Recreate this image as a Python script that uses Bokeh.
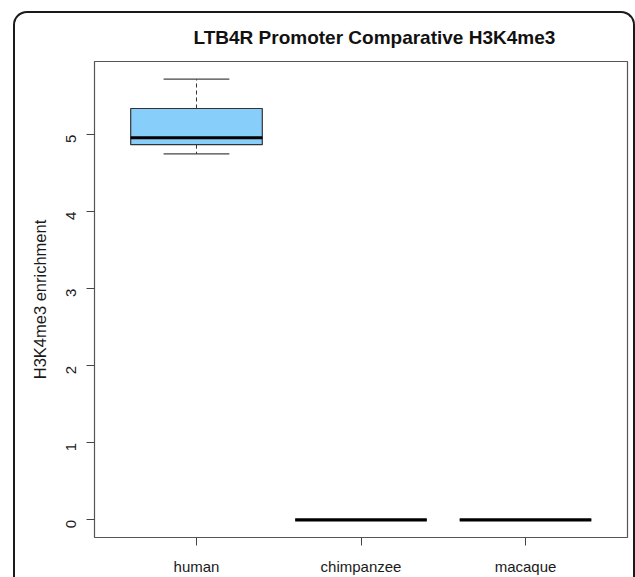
import math
from bokeh.plotting import figure
from bokeh.models import Range1d, FactorRange, FixedTicker, ColumnDataSource, InlineStyleSheet
from bokeh.transform import dodge
from bokeh.embed import file_html
from bokeh.resources import INLINE

# ---- data ----
categories = ["human", "chimpanzee", "macaque"]
whisker_low = [4.75, 0.0, 0.0]
q1 = [4.87, 0.0, 0.0]
median = [4.96, 0.0, 0.0]
q3 = [5.34, 0.0, 0.0]
whisker_high = [5.72, 0.0, 0.0]
y_ticks = [0, 1, 2, 3, 4, 5]

FONT = "Liberation Sans"

src = ColumnDataSource(dict(cat=categories, lo=whisker_low, q1=q1, med=median,
                            q3=q3, hi=whisker_high))

x_range = FactorRange(factors=categories, range_padding=0.12,
                      range_padding_units="absolute")

p = figure(
    width=635, height=577,
    x_range=x_range,
    y_range=Range1d(-0.229, 5.95),
    output_backend="svg", toolbar_location=None,
    min_border_left=94, min_border_right=8, min_border_top=61, min_border_bottom=39,
    background_fill_color="white", border_fill_color="white",
)

p.title.text = "LTB4R Promoter Comparative H3K4me3"
p.title.text_font = FONT
p.title.text_font_size = "19px"
p.title.text_font_style = "bold"
p.title.text_color = "#111111"
p.title.align = "left"
p.title.offset = 99
p.title.standoff = 28

p.outline_line_color = "#555555"
p.outline_line_width = 1.2
p.xgrid.visible = False
p.ygrid.visible = False

for ax in (p.xaxis[0], p.yaxis[0]):
    ax.axis_line_color = None
    ax.major_tick_in = 0
    ax.major_tick_out = 8
    ax.major_tick_line_color = "#444444"
    ax.minor_tick_line_color = None
    ax.major_label_text_font = FONT
    ax.major_label_text_color = "#1a1a1a"

p.xaxis.major_label_text_font_size = "15px"
p.xaxis.major_label_standoff = 12
p.yaxis.major_label_text_font_size = "15px"
p.yaxis.ticker = FixedTicker(ticks=y_ticks)
p.yaxis.major_label_orientation = math.pi / 2
p.yaxis.major_label_standoff = 15
p.yaxis.axis_label = "H3K4me3 enrichment"
p.yaxis.axis_label_text_font = FONT
p.yaxis.axis_label_text_font_size = "16.5px"
p.yaxis.axis_label_text_font_style = "normal"
p.yaxis.axis_label_text_color = "#1a1a1a"
p.yaxis.axis_label_standoff = 10

left_cap = dodge("cat", -0.2, range=x_range)
right_cap = dodge("cat", 0.2, range=x_range)
left_box = dodge("cat", -0.4, range=x_range)
right_box = dodge("cat", 0.4, range=x_range)

# whisker stems (dashed)
p.segment(x0="cat", y0="q3", x1="cat", y1="hi", source=src,
          line_color="#333333", line_width=1, line_dash="4 3")
p.segment(x0="cat", y0="q1", x1="cat", y1="lo", source=src,
          line_color="#333333", line_width=1, line_dash="4 3")
# whisker caps
p.segment(x0=left_cap, y0="hi", x1=right_cap, y1="hi", source=src,
          line_color="#444444", line_width=1.2)
p.segment(x0=left_cap, y0="lo", x1=right_cap, y1="lo", source=src,
          line_color="#444444", line_width=1.2)
# boxes
p.vbar(x="cat", width=0.8, bottom="q1", top="q3", source=src,
       fill_color="#87CEFA", line_color="#333333", line_width=1.2)
# medians
p.segment(x0=left_box, y0="med", x1=right_box, y1="med", source=src,
          line_color="#000000", line_width=3.2)

# outer rounded border of the figure panel
p.stylesheets = [InlineStyleSheet(css="""
:host::after {
  content: "";
  position: absolute;
  left: 13px;
  top: 11px;
  width: 622px;
  height: 566px;
  box-sizing: border-box;
  border-left: 2.2px solid #1a1a1a;
  border-top: 2.2px solid #1a1a1a;
  border-right: 2.2px solid #1a1a1a;
  border-top-left-radius: 14px;
  border-top-right-radius: 14px;
  pointer-events: none;
  z-index: 100;
}
""")]

open("out.html", "w").write(file_html(p, INLINE))
